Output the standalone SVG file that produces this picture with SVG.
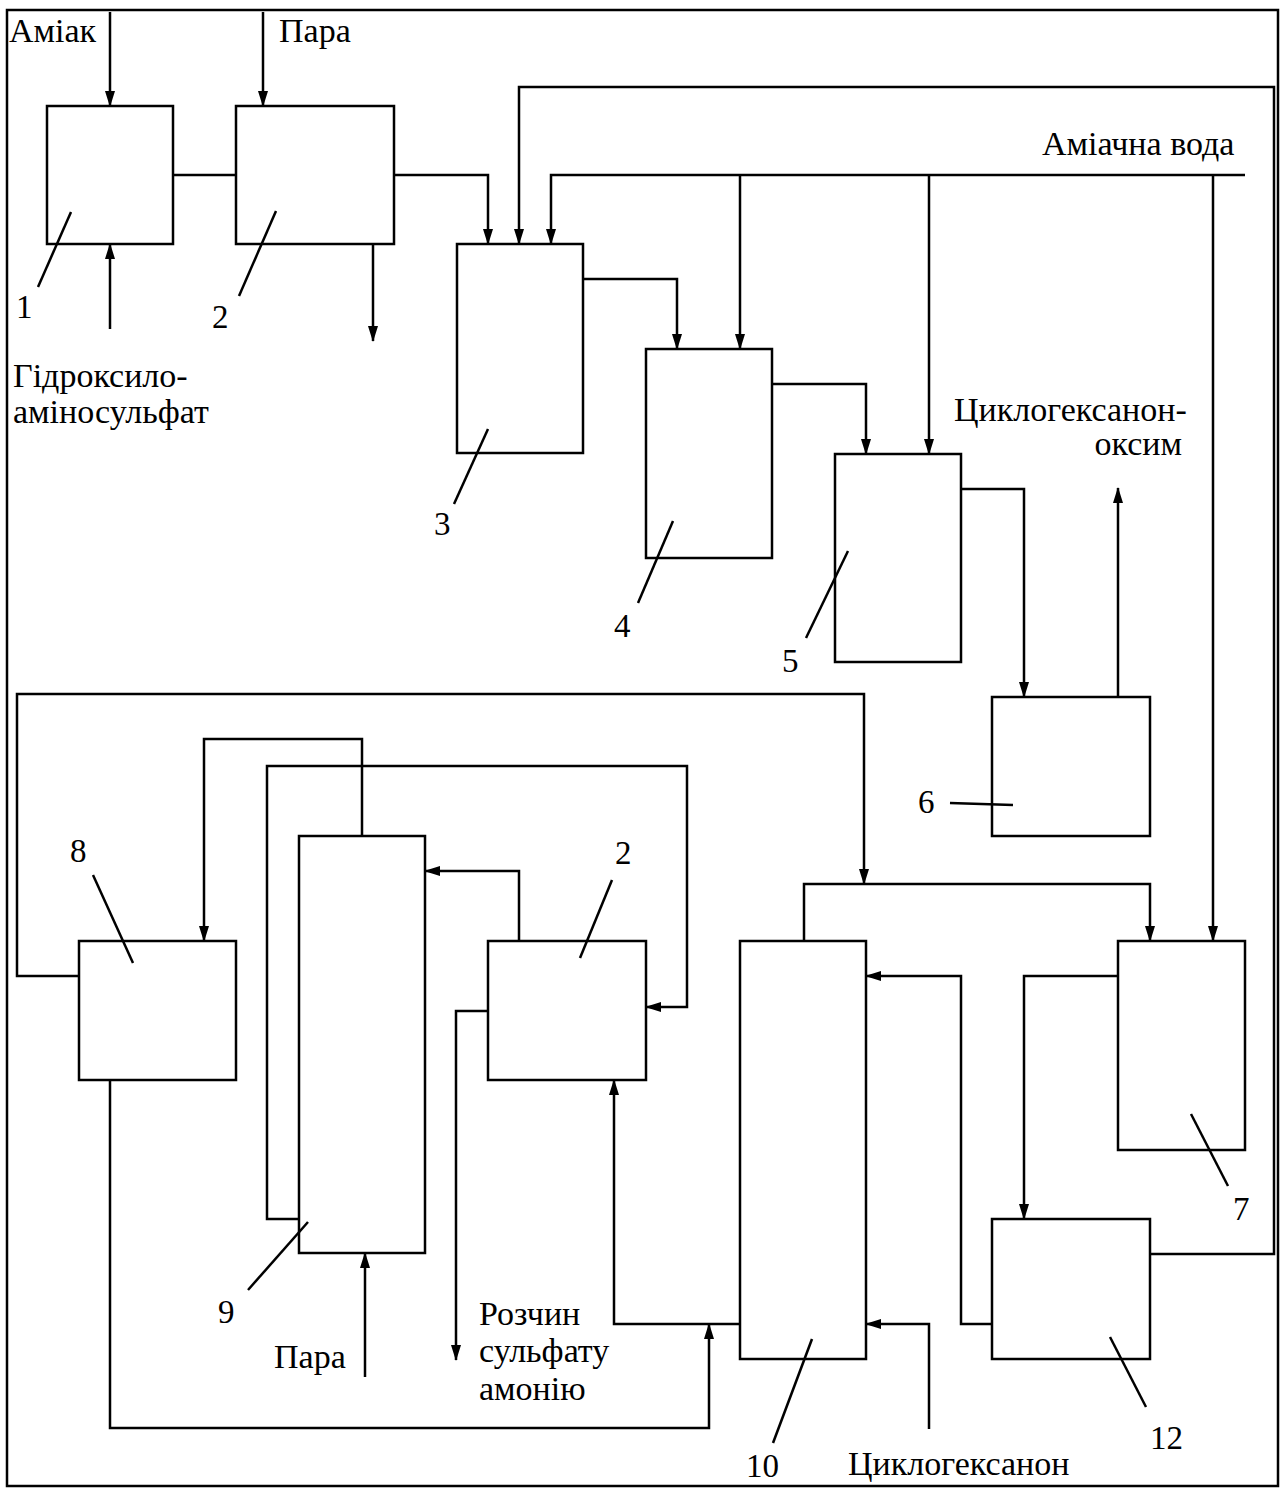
<svg xmlns="http://www.w3.org/2000/svg" width="1280" height="1488" viewBox="0 0 1280 1488">
<defs>
<style>
.box{fill:#fff;stroke:#000;stroke-width:2.5}
.ln{fill:none;stroke:#000;stroke-width:2.5}
.ar{fill:none;stroke:#000;stroke-width:2.5;marker-end:url(#ah)}
.ld{fill:none;stroke:#000;stroke-width:2.5}
text{font-family:"Liberation Serif","Times New Roman",serif;font-size:34px;fill:#000}
.n{font-size:33px}
.e{text-anchor:end}
</style>
<marker id="ah" viewBox="0 0 16 10" refX="15" refY="5" markerWidth="16" markerHeight="10" markerUnits="userSpaceOnUse" orient="auto">
<path d="M0,0 L16,5 L0,10 z" fill="#000"/>
</marker>
</defs>
<rect x="0" y="0" width="1280" height="1488" fill="#fff"/>
<rect x="7" y="10" width="1271" height="1476" fill="none" stroke="#000" stroke-width="2.5"/>

<g id="connectors">
<path class="ar" d="M110,12 V106"/>
<path class="ar" d="M263,12 V106"/>
<path class="ar" d="M110,329 V244"/>
<path class="ln" d="M173,175 H236"/>
<path class="ar" d="M373,244 V341"/>
<path class="ar" d="M394,175 H488 V244"/>
<path class="ar" d="M1143,1254 H1274 V87 H519 V244"/>
<path class="ar" d="M1245,175 H551 V244"/>
<path class="ar" d="M740,175 V349"/>
<path class="ar" d="M929,175 V454"/>
<path class="ar" d="M1213,175 V941"/>
<path class="ar" d="M583,279 H677 V349"/>
<path class="ar" d="M772,384 H866 V454"/>
<path class="ar" d="M961,489 H1024 V697"/>
<path class="ar" d="M1118,697 V488"/>
<path class="ar" d="M79,976 H17 V694 H864 V884"/>
<path class="ar" d="M804,941 V884 H1150 V941"/>
<path class="ar" d="M362,836 V739 H204 V941"/>
<path class="ar" d="M300,1219 H267 V766 H687 V1007 H646"/>
<path class="ar" d="M519,941 V871 H425"/>
<path class="ar" d="M488,1011 H456 V1360"/>
<path class="ar" d="M740,1324 H614 V1080"/>
<path class="ar" d="M110,1080 V1428 H709 V1324"/>
<path class="ar" d="M365,1377 V1253"/>
<path class="ar" d="M1118,976 H1024 V1219"/>
<path class="ar" d="M992,1324 H961 V976 H866"/>
<path class="ar" d="M929,1429 V1324 H866"/>
</g>

<g id="node1"><rect class="box" x="47" y="106" width="126" height="138"/><path class="ld" d="M71,212 L38,287"/><text class="n" x="16" y="318">1</text></g>
<g id="node2"><rect class="box" x="236" y="106" width="158" height="138"/><path class="ld" d="M276,211 L239,296"/><text class="n" x="212" y="328">2</text></g>
<g id="node3"><rect class="box" x="457" y="244" width="126" height="209"/><path class="ld" d="M488,429 L454,504"/><text class="n" x="434" y="535">3</text></g>
<g id="node4"><rect class="box" x="646" y="349" width="126" height="209"/><path class="ld" d="M673,521 L638,603"/><text class="n" x="614" y="637">4</text></g>
<g id="node5"><rect class="box" x="835" y="454" width="126" height="208"/><path class="ld" d="M848,551 L806,638"/><text class="n" x="782" y="672">5</text></g>
<g id="node6"><rect class="box" x="992" y="697" width="158" height="139"/><path class="ld" d="M950,803 L1013,805"/><text class="n" x="918" y="813">6</text></g>
<g id="node7"><rect class="box" x="1118" y="941" width="127" height="209"/><path class="ld" d="M1191,1114 L1228,1186"/><text class="n" x="1233" y="1220">7</text></g>
<g id="node8"><rect class="box" x="79" y="941" width="157" height="139"/><path class="ld" d="M93,875 L133,963"/><text class="n" x="70" y="862">8</text></g>
<g id="node9"><rect class="box" x="299" y="836" width="126" height="417"/><path class="ld" d="M308,1222 L248,1290"/><text class="n" x="218" y="1323">9</text></g>
<g id="node2b"><rect class="box" x="488" y="941" width="158" height="139"/><path class="ld" d="M612,880 L580,958"/><text class="n" x="615" y="864">2</text></g>
<g id="node10"><rect class="box" x="740" y="941" width="126" height="418"/><path class="ld" d="M812,1339 L773,1443"/><text class="n" x="746" y="1477">10</text></g>
<g id="node12"><rect class="box" x="992" y="1219" width="158" height="140"/><path class="ld" d="M1110,1337 L1146,1407"/><text class="n" x="1150" y="1449">12</text></g>

<g id="labels">
<text x="9" y="42">Аміак</text>
<text x="279" y="42">Пара</text>
<text x="13" y="387">Гідроксило-</text>
<text x="13" y="423">аміносульфат</text>
<text x="1042" y="155">Аміачна вода</text>
<text x="954" y="421">Циклогексанон-</text>
<text class="e" x="1182" y="455">оксим</text>
<text x="274" y="1368">Пара</text>
<text x="479" y="1325">Розчин</text>
<text x="479" y="1362">сульфату</text>
<text x="479" y="1400">амонію</text>
<text x="848" y="1475">Циклогексанон</text>
</g>
</svg>
